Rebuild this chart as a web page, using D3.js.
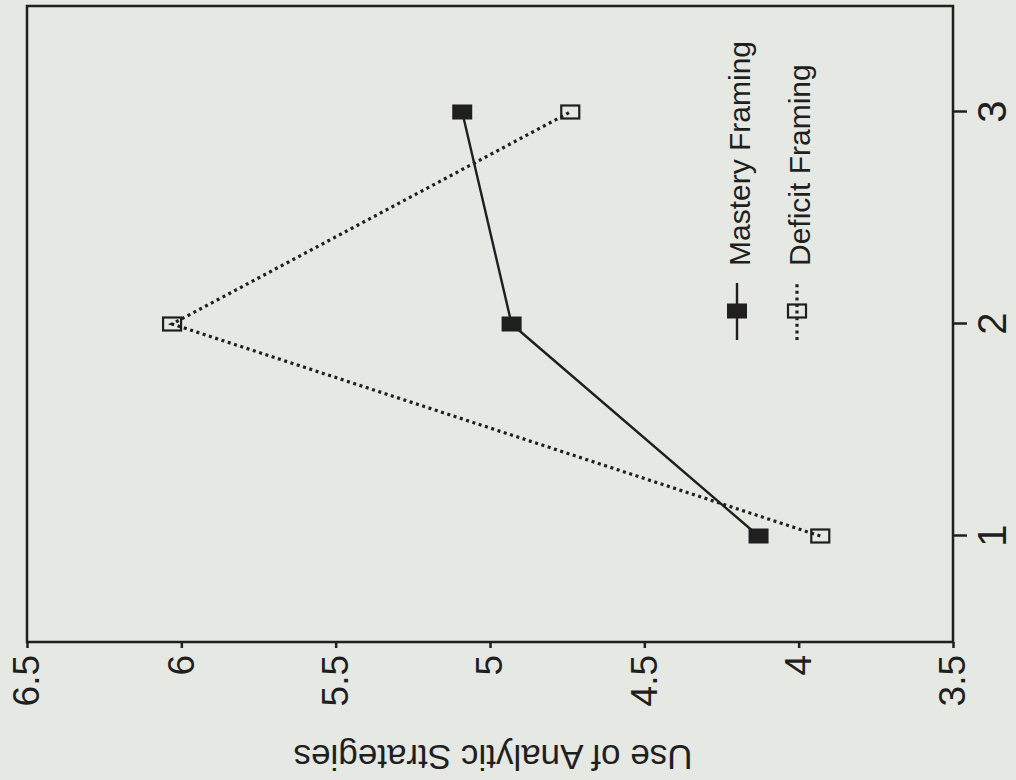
<!DOCTYPE html>
<html>
<head>
<meta charset="utf-8">
<script src="https://cdn.jsdelivr.net/npm/d3@7"></script>
<style>
html, body { margin: 0; padding: 0; background: #e6e8e3; }
svg { display: block; font-family: "Liberation Sans", Arial, Helvetica, sans-serif; }
</style>
</head>
<body>
<svg id="chart" width="1016" height="780"></svg>
<script>
'use strict';

var groups = [1, 2, 3];
var mastery = [4.13, 4.93, 5.09];
var deficit = [3.93, 6.03, 4.74];
var valueTicks = [6.5, 6, 5.5, 5, 4.5, 4, 3.5];
var seriesNames = ['Mastery Framing', 'Deficit Framing'];
var yTitle = 'Use of Analytic Strategies';

var ink = '#1f1f1f';
var W = 1016, H = 780;
var svg = d3.select('#chart');
svg.append('rect').attr('width', W).attr('height', H).attr('fill', '#e6e8e3');

// the scanned figure lies on its side: draw it upright, then turn the whole page
var page = svg.append('g').attr('transform', 'translate(0,' + H + ') rotate(-90)');
var margins = { left: 138, top: 27 };
var width = 636, height = 926;
var g = page.append('g').attr('transform', 'translate(' + margins.left + ',' + margins.top + ')');

var x = d3.scaleLinear().domain([0.5, 3.5]).range([0, width]);
var y = d3.scaleLinear().domain([3.5, 6.5]).range([height, 0]);

var yAxis = d3.axisLeft(y).tickValues(valueTicks).tickFormat(d3.format('')).tickSize(6).tickPadding(7);
var xAxis = d3.axisBottom(x).tickValues(groups).tickFormat(d3.format('d')).tickSize(14).tickPadding(11);

var ya = g.append('g').call(yAxis);
ya.select('.domain').remove();
ya.attr('font-size', 37).attr('font-family', null);
ya.selectAll('line').attr('stroke', ink).attr('stroke-width', 2.5);
ya.selectAll('text').attr('fill', ink);

var xa = g.append('g').attr('transform', 'translate(0,' + height + ')').call(xAxis);
xa.select('.domain').remove();
xa.attr('font-size', 40).attr('font-family', null);
xa.selectAll('line').attr('stroke', ink).attr('stroke-width', 2.5);
xa.selectAll('text').attr('fill', ink);

// frame
g.append('rect').attr('x', 0).attr('y', 0).attr('width', width).attr('height', height)
  .attr('fill', 'none').attr('stroke', ink).attr('stroke-width', 2.5);

var line = d3.line()
  .x(function (d, i) { return x(groups[i]); })
  .y(function (d) { return y(d); });

g.append('path').datum(deficit).attr('d', line).attr('fill', 'none')
  .attr('stroke', ink).attr('stroke-width', 3.2).attr('stroke-dasharray', '3,3.6');
g.append('path').datum(mastery).attr('d', line).attr('fill', 'none')
  .attr('stroke', ink).attr('stroke-width', 2.4);

var mw = 15, mh = 20;
g.selectAll('rect.mastery').data(mastery).enter().append('rect').attr('class', 'mastery')
  .attr('x', function (d, i) { return x(groups[i]) - mw / 2; })
  .attr('y', function (d) { return y(d) - mh / 2; })
  .attr('width', mw).attr('height', mh).attr('fill', ink);
g.selectAll('rect.deficit').data(deficit).enter().append('rect').attr('class', 'deficit')
  .attr('x', function (d, i) { return x(groups[i]) - mw / 2 + 1; })
  .attr('y', function (d) { return y(d) - mh / 2 + 1; })
  .attr('width', mw - 2).attr('height', mh - 2)
  .attr('fill', 'none').attr('stroke', ink).attr('stroke-width', 2.2);

// legend
var legend = g.append('g').attr('font-size', 30).attr('fill', ink);
seriesNames.forEach(function (name, i) {
  var ly = 710 + i * 60;
  var l = legend.append('g').attr('transform', 'translate(0,' + ly + ')');
  l.append('line').attr('x1', 302).attr('x2', 359).attr('y1', 0).attr('y2', 0)
    .attr('stroke', ink).attr('stroke-width', i === 0 ? 2.4 : 3.2)
    .attr('stroke-dasharray', i === 0 ? null : '3,3.6');
  l.append('rect').attr('x', 331 - mw / 2 + (i ? 1 : 0)).attr('y', -mh / 2 + (i ? 1 : 0))
    .attr('width', i ? mw - 2 : mw).attr('height', i ? mh - 2 : mh)
    .attr('fill', i ? 'none' : ink).attr('stroke', i ? ink : 'none').attr('stroke-width', 2.2);
  l.append('text').attr('x', 376).attr('y', 13).text(name);
});

// value axis title (ends up upside down, as in the scan)
page.append('text').attr('transform', 'translate(35,' + (margins.top + height / 2 + 3) + ') rotate(-90)')
  .attr('text-anchor', 'middle').attr('font-size', 35).attr('fill', ink).text(yTitle);
</script>
</body>
</html>
